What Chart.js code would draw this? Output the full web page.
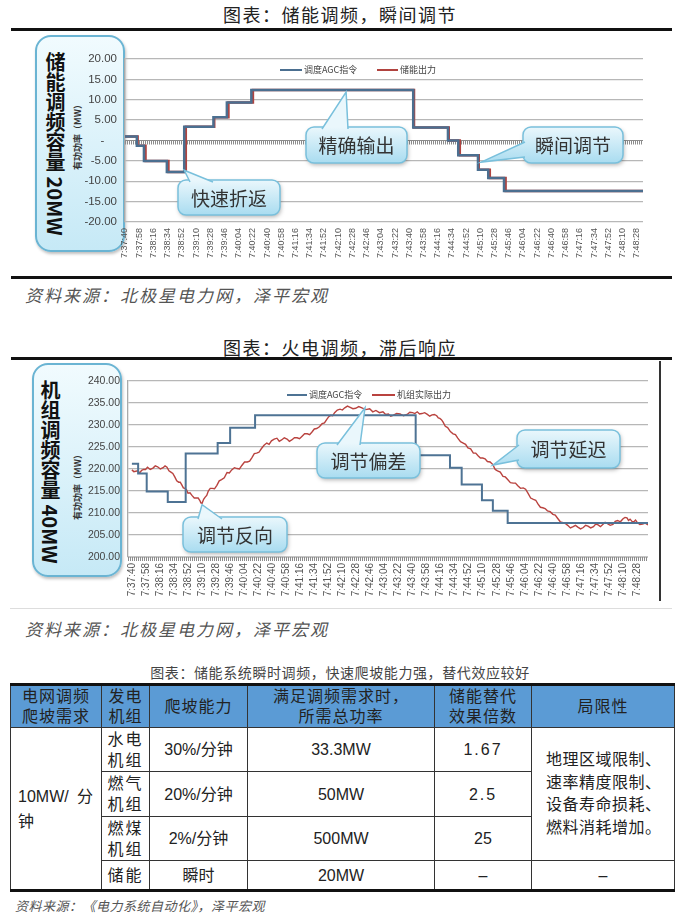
<!DOCTYPE html>
<html>
<head>
<meta charset="utf-8">
<script src="https://cdn.jsdelivr.net/npm/chart.js@4.4.0/dist/chart.umd.min.js"></script>
<style>
body { margin: 0; width: 680px; height: 919px; background: #fff; position: relative; overflow: hidden; font-family: "Noto Sans CJK SC", sans-serif; }
.abs { position: absolute; }
.title { left: 0; width: 680px; text-align: center; font-size: 18px; letter-spacing: 1.5px; color: #222; line-height: 24px; }
.rule { left: 11px; width: 661px; height: 3px; background: #111; }
.source { left: 25px; font-size: 17px; letter-spacing: 2px; font-style: italic; color: #555; line-height: 22px; }
.sidebox { border: 2px solid #6ab4d3; border-radius: 16px; background: linear-gradient(#f1fbfe, #c6e9f6); box-shadow: 1px 2px 3px rgba(0,0,0,0.25); box-sizing: border-box; }
.sidetext { writing-mode: vertical-rl; font-weight: bold; font-size: 20px; line-height: 20px; width: 20px; color: #111; white-space: nowrap; }
.ytitle { transform: translate(-50%, -50%) rotate(-90deg); font-size: 9px; font-weight: bold; color: #333; white-space: nowrap; }
canvas { position: absolute; left: 0; }
#tbl { position: absolute; left: 10px; top: 683px; width: 664px; border-collapse: collapse; table-layout: fixed; border-top: 3px solid #111; border-bottom: 3px solid #111; }
#tbl th, #tbl td { border: 1px solid #333; padding: 0; text-align: center; vertical-align: middle; font-weight: normal; color: #222; font-size: 16px; font-family: "Liberation Sans Narrow", "Liberation Sans", "Noto Sans CJK SC", sans-serif; }
#tbl th { background: #5b9bd5; line-height: 20px; letter-spacing: 1px; }
#tbl td { line-height: 21px; }
#tbl .lim { text-align: left; padding-left: 14px; line-height: 22.5px; letter-spacing: 0.5px; }
#tbl .c1 { text-align: left; padding: 0 8px 0 7px; line-height: 25px; }
#tbl .dem { display: flex; justify-content: space-between; }
#tbl .wide { letter-spacing: 2px; }
</style>
</head>
<body>

<div class="abs title" style="top:2px;">图表：储能调频，瞬间调节</div>
<div class="abs rule" style="top:28px;"></div>
<div class="abs sidebox" style="left:35px; top:35px; width:90px; height:217px;"></div>
<div class="abs sidetext" style="left:45px; top:52px;">储能调频容量 20MW</div>
<div class="abs ytitle" style="left:77px; top:135px;">有功功率（MW）</div>
<canvas id="chart1" width="680" height="246" style="top:30px;"></canvas>
<div class="abs rule" style="top:276px;"></div>
<div class="abs source" style="top:284px;">资料来源：北极星电力网，泽平宏观</div>

<div class="abs title" style="top:335px;">图表：火电调频，滞后响应</div>
<div class="abs rule" style="top:357px;"></div>
<div class="abs" style="left:659px; top:361px; width:2px; height:240px; background:#333;"></div>
<div class="abs" style="left:10px; top:608px; width:662px; height:1px; background:#ddd;"></div>
<div class="abs sidebox" style="left:32px; top:363px; width:90px; height:214px;"></div>
<div class="abs sidetext" style="left:40px; top:380px;">机组调频容量 40MW</div>
<div class="abs ytitle" style="left:77px; top:485px;">有功功率（MW）</div>
<canvas id="chart2" width="680" height="250" style="top:358px;"></canvas>
<div class="abs source" style="top:618px;">资料来源：北极星电力网，泽平宏观</div>

<div class="abs" style="left:0; width:680px; top:662px; text-align:center; font-size:14px; letter-spacing:0.6px; color:#444; line-height:20px;">图表：储能系统瞬时调频，快速爬坡能力强，替代效应较好</div>
<table id="tbl">
  <colgroup><col style="width:91px"><col style="width:48px"><col style="width:98px"><col style="width:187px"><col style="width:97px"><col style="width:143px"></colgroup>
  <tr style="height:43px"><th>电网调频<br>爬坡需求</th><th>发电<br>机组</th><th>爬坡能力</th><th>满足调频需求时，<br>所需总功率</th><th>储能替代<br>效果倍数</th><th>局限性</th></tr>
  <tr style="height:44px"><td rowspan="4" class="c1"><div class="dem"><span>10MW/</span><span>分</span></div>钟</td><td class="wide">水电<br>机组</td><td>30%/分钟</td><td>33.3MW</td><td class="wide">1.67</td><td rowspan="3" class="lim">地理区域限制、<br>速率精度限制、<br>设备寿命损耗、<br>燃料消耗增加。</td></tr>
  <tr style="height:45px"><td class="wide">燃气<br>机组</td><td>20%/分钟</td><td>50MW</td><td class="wide">2.5</td></tr>
  <tr style="height:44px"><td class="wide">燃煤<br>机组</td><td>2%/分钟</td><td>500MW</td><td>25</td></tr>
  <tr style="height:30px"><td class="wide">储能</td><td>瞬时</td><td>20MW</td><td>–</td><td>–</td></tr>
</table>
<div class="abs" style="left:15px; top:897px; font-size:13px; font-style:italic; color:#555; letter-spacing:0.5px; line-height:18px;">资料来源：《电力系统自动化》，泽平宏观</div>

<script>
// x axis labels, one every 18 seconds from 7:37:40
const timeLabels = ['7:37:40','7:37:58','7:38:16','7:38:34','7:38:52','7:39:10','7:39:28','7:39:46','7:40:04','7:40:22','7:40:40','7:40:58','7:41:16','7:41:34','7:41:52','7:42:10','7:42:28','7:42:46','7:43:04','7:43:22','7:43:40','7:43:58','7:44:16','7:44:34','7:44:52','7:45:10','7:45:28','7:45:46','7:46:04','7:46:22','7:46:40','7:46:58','7:47:16','7:47:34','7:47:52','7:48:10','7:48:28'];
const tickStep = 18;

// chart 1: storage, seconds since 7:37:40 where the value changes
const agcTimes1 = [0, 15, 24, 53, 75, 112, 129, 160, 365, 409, 422, 447, 460, 480, 656];
const agcValues1 = [1, -1.3, -5, -7.7, 3.4, 5.7, 9.3, 12.4, 3.2, 0, -3.6, -7.2, -9.2, -12.4, -12.4];
const outTimes1 = [0, 16, 26, 55, 77, 113, 131, 162, 366, 410, 424, 448, 462, 482, 656];
const outValues1 = [1, -1.3, -5, -7.7, 3.4, 5.7, 9.3, 12.4, 3.2, 0, -3.6, -7.2, -9.2, -12.4, -12.4];

// chart 2: thermal unit
const agcTimes2 = [0, 8, 19, 46, 69, 110, 126, 158, 364, 408, 423, 449, 463, 482, 662];
const agcValues2 = [221.2, 219.0, 214.9, 212.5, 223.5, 225.9, 229.4, 232.2, 223.1, 220.3, 216.5, 212.9, 210.5, 207.7, 207.7];
const outTimes2 = [0, 2.5, 5, 7.5, 10, 12.5, 15, 17.5, 20, 23.5, 27, 30, 33, 36.5, 40, 42.5, 45, 47.5, 50, 52.5, 55, 57.5, 60, 62, 64, 66, 68, 70, 72, 74.5, 77, 80, 83, 85, 87, 88.5, 90, 92, 94, 96, 98, 100.5, 103, 106, 109, 112, 115, 118.5, 122, 125, 128, 131.5, 135, 138, 141, 144.5, 148, 151, 154, 157, 160, 163, 166, 169.5, 173, 176, 179, 182.5, 186, 189, 192, 195.5, 199, 202, 205, 208.5, 212, 215, 218, 221.5, 225, 228, 231, 234, 237, 240.5, 244, 247, 250, 252.5, 255, 257.5, 260, 263.5, 267, 270, 273, 276.5, 280, 283.5, 287, 291, 295, 300, 305, 309, 313, 317.5, 322, 325.5, 329, 332, 335, 339.5, 344, 348.5, 353, 356.5, 360, 363, 366, 369, 372, 375.5, 379, 382, 385, 388, 391, 393, 395, 397, 399, 402, 405, 408.5, 412, 415, 418, 421.5, 425, 428, 431, 434.5, 438, 441, 444, 447, 450, 453, 456, 459.5, 463, 466, 469, 472.5, 476, 479, 482, 485.5, 489, 492, 495, 498.5, 502, 505, 508, 511.5, 515, 518, 521, 524, 527, 530, 533, 536.5, 540, 543, 546, 549.5, 553, 556, 559, 562.5, 566, 569, 572, 575.5, 579, 582, 585, 588.5, 592, 595, 598, 601, 604, 607, 610, 613.5, 617, 620, 623, 626.5, 630, 632.5, 635, 637, 639, 641.5, 644, 646, 648, 651.5, 655, 658.5, 662];
const outValues2 = [219.8, 219.4, 219.5, 219.6, 219.1, 219.7, 219.9, 219.9, 220.4, 219.9, 220.2, 220.7, 220.5, 220.0, 220.3, 220.7, 220.4, 219.6, 219.3, 219.0, 218.2, 217.3, 217.0, 217.0, 216.4, 215.7, 215.6, 215.3, 214.5, 214.6, 214.0, 213.4, 213.4, 213.4, 212.9, 212.3, 212.2, 213.1, 213.6, 214.0, 215.0, 215.6, 215.6, 215.5, 216.3, 217.3, 217.6, 218.0, 219.2, 219.1, 219.8, 220.3, 220.1, 220.0, 220.8, 221.6, 221.6, 221.8, 222.6, 223.5, 223.6, 223.8, 224.6, 225.4, 225.9, 225.6, 226.4, 226.8, 227.0, 226.3, 226.6, 227.1, 226.8, 226.3, 226.6, 227.1, 227.1, 226.9, 227.4, 228.0, 228.0, 227.8, 228.4, 229.1, 229.2, 229.6, 230.3, 230.5, 231.3, 231.9, 232.2, 232.1, 232.8, 233.4, 233.6, 233.4, 233.9, 234.3, 234.0, 233.7, 233.8, 234.2, 233.9, 233.5, 233.7, 233.0, 233.3, 232.8, 233.0, 232.4, 232.5, 232.0, 232.2, 232.6, 232.5, 232.1, 232.4, 232.9, 232.8, 232.6, 233.0, 232.5, 232.6, 232.8, 232.4, 232.0, 232.3, 232.4, 232.1, 231.6, 231.5, 231.2, 230.7, 229.7, 229.4, 228.5, 228.0, 227.8, 227.0, 226.2, 225.9, 225.6, 224.8, 224.6, 223.6, 223.6, 223.0, 222.5, 222.5, 222.3, 221.7, 221.6, 221.0, 219.9, 219.6, 219.3, 218.3, 218.2, 217.6, 216.9, 216.8, 216.8, 216.2, 215.6, 215.7, 215.4, 214.5, 213.4, 213.1, 212.9, 212.0, 211.3, 211.2, 211.0, 210.5, 210.3, 209.7, 209.5, 208.8, 208.0, 207.8, 207.6, 207.2, 206.6, 206.9, 207.2, 206.8, 206.4, 206.7, 207.2, 207.0, 206.6, 206.9, 207.5, 207.3, 206.9, 207.4, 207.9, 207.6, 207.2, 207.4, 208.1, 208.3, 208.0, 208.7, 209.0, 208.9, 208.3, 208.6, 208.1, 208.0, 208.4, 207.9, 207.4, 207.5, 207.7, 207.3];

function toPoints(times, values) {
    return times.map((t, i) => ({ x: t, y: values[i] }));
}

// hatched axis line (dense category ticks in the original)
const hatchPlugin = {
    id: 'hatch',
    beforeDatasetsDraw(chart, args, opts) {
        const ctx = chart.ctx;
        const area = chart.chartArea;
        const y = chart.scales.y.getPixelForValue(opts.value);
        ctx.save();
        ctx.strokeStyle = '#8c8c8c';
        ctx.lineWidth = 1;
        ctx.beginPath();
        ctx.moveTo(area.left, y);
        ctx.lineTo(area.right, y);
        ctx.stroke();
        ctx.lineWidth = 4;
        ctx.setLineDash([1, 1]);
        ctx.beginPath();
        ctx.moveTo(area.left, y + 2);
        ctx.lineTo(area.right, y + 2);
        ctx.stroke();
        ctx.restore();
    }
};

// small legend drawn inside the plot
const legendPlugin = {
    id: 'innerLegend',
    afterDatasetsDraw(chart, args, opts) {
        const ctx = chart.ctx;
        ctx.save();
        ctx.font = '9px "Noto Sans CJK SC"';
        ctx.textBaseline = 'middle';
        chart.data.datasets.forEach((ds, i) => {
            const item = opts.items[i];
            ctx.strokeStyle = ds.borderColor;
            ctx.lineWidth = 2;
            ctx.beginPath();
            ctx.moveTo(item[0], opts.y);
            ctx.lineTo(item[1], opts.y);
            ctx.stroke();
            ctx.fillStyle = '#444';
            ctx.fillText(ds.label, item[1] + 2, opts.y);
        });
        ctx.restore();
    }
};

// speech bubble call-outs
const calloutPlugin = {
    id: 'callouts',
    afterDatasetsDraw(chart, args, opts) {
        const ctx = chart.ctx;
        opts.list.forEach(c => {
            const tipX = chart.scales.x.getPixelForValue(c.tip[0]);
            const tipY = chart.scales.y.getPixelForValue(c.tip[1]);
            const [bx, by, bw, bh] = c.box;
            const grad = ctx.createLinearGradient(0, by, 0, by + bh);
            grad.addColorStop(0, '#eaf7fc');
            grad.addColorStop(1, '#a9dcf0');
            ctx.save();
            ctx.shadowColor = 'rgba(0,0,0,0.3)';
            ctx.shadowBlur = 4;
            ctx.shadowOffsetX = 1;
            ctx.shadowOffsetY = 2;
            ctx.fillStyle = grad;
            ctx.beginPath();
            ctx.roundRect(bx, by, bw, bh, 8);
            ctx.fill();
            ctx.restore();
            ctx.save();
            ctx.strokeStyle = '#79c0dc';
            ctx.lineWidth = 1.5;
            ctx.beginPath();
            ctx.roundRect(bx, by, bw, bh, 8);
            ctx.stroke();
            ctx.fillStyle = grad;
            ctx.beginPath();
            ctx.moveTo(c.base[0][0], c.base[0][1]);
            ctx.lineTo(tipX, tipY);
            ctx.lineTo(c.base[1][0], c.base[1][1]);
            ctx.closePath();
            ctx.fill();
            ctx.beginPath();
            ctx.moveTo(c.base[0][0], c.base[0][1]);
            ctx.lineTo(tipX, tipY);
            ctx.lineTo(c.base[1][0], c.base[1][1]);
            ctx.stroke();
            ctx.fillStyle = '#333';
            ctx.font = '19px "Noto Sans CJK SC"';
            ctx.textAlign = 'center';
            ctx.textBaseline = 'middle';
            ctx.fillText(c.text, bx + bw / 2, by + bh / 2 + 1);
            ctx.restore();
        });
    }
};

function createChart(canvasElement, cfg) {
    return new Chart(canvasElement, {
        type: 'line',
        data: { datasets: cfg.datasets },
        plugins: [hatchPlugin, legendPlugin, calloutPlugin],
        options: {
            responsive: false,
            animation: false,
            layout: { padding: cfg.padding },
            elements: { point: { radius: 0 } },
            plugins: {
                legend: { display: false },
                tooltip: { enabled: false },
                hatch: { value: cfg.hatchValue },
                innerLegend: cfg.legend,
                callouts: { list: cfg.callouts }
            },
            scales: {
                x: {
                    type: 'linear',
                    min: cfg.xMin,
                    max: cfg.xMax,
                    afterBuildTicks: axis => { axis.ticks = timeLabels.map((l, i) => ({ value: i * tickStep })); },
                    afterFit: axis => { axis.height = cfg.xHeight; },
                    grid: { display: false, drawTicks: false },
                    border: { display: false },
                    ticks: {
                        autoSkip: false,
                        maxRotation: 90,
                        minRotation: 90,
                        padding: cfg.xPad,
                        color: '#555',
                        font: { family: 'Liberation Sans', size: cfg.xFont },
                        callback: (v, i) => timeLabels[i]
                    }
                },
                y: {
                    min: cfg.yMin,
                    max: cfg.yMax,
                    afterFit: axis => { axis.width = cfg.yWidth; },
                    grid: {
                        drawTicks: false,
                        lineWidth: 1.3,
                        color: c => c.tick.value === cfg.hatchValue ? 'rgba(0,0,0,0)' : '#b7b7b7'
                    },
                    border: { color: '#aaa', width: 1.3 },
                    ticks: {
                        stepSize: 5,
                        padding: 8,
                        color: '#444',
                        font: { family: 'Liberation Sans', size: cfg.yFont },
                        callback: cfg.yFormat
                    }
                }
            }
        }
    });
}

createChart(document.getElementById('chart1'), {
    datasets: [
        { label: '调度AGC指令', data: toPoints(agcTimes1, agcValues1), stepped: true, borderColor: '#4b6f90', borderWidth: 2.5 },
        { label: '储能出力', data: toPoints(outTimes1, outValues1), stepped: true, borderColor: '#b1433f', borderWidth: 2.5 }
    ],
    padding: { top: 29, right: 37, bottom: 0, left: 0 },
    xMin: 0, xMax: 656, xHeight: 54, xPad: 6, xFont: 9,
    yMin: -20, yMax: 20, yWidth: 125, yFont: 11.5,
    yFormat: v => v === 0 ? '-    ' : v.toFixed(2),
    hatchValue: 0,
    legend: { y: 40, items: [[280, 302], [377, 398]] },
    callouts: [
        { text: '快速折返', tip: [75, -7.3], box: [178, 150, 102, 35], base: [[190, 152], [213, 152]] },
        { text: '精确输出', tip: [280, 11.9], box: [306, 97, 101, 36], base: [[322, 99], [348, 99]] },
        { text: '瞬间调节', tip: [451, -5.3], box: [523, 97, 100, 36], base: [[525, 112], [525, 127]] }
    ]
});

createChart(document.getElementById('chart2'), {
    datasets: [
        { label: '调度AGC指令', data: toPoints(agcTimes2, agcValues2), stepped: true, borderColor: '#4e7394', borderWidth: 2 },
        { label: '机组实际出力', data: toPoints(outTimes2, outValues2), borderColor: '#b9433f', borderWidth: 1.4 }
    ],
    padding: { top: 23, right: 32, bottom: 0, left: 0 },
    xMin: -5, xMax: 662, xHeight: 51, xPad: 6, xFont: 10,
    yMin: 200, yMax: 240, yWidth: 128, yFont: 10.5,
    yFormat: v => v.toFixed(2),
    hatchValue: 200,
    legend: { y: 37, items: [[287, 307], [372, 395]] },
    callouts: [
        { text: '调节反向', tip: [90, 211.9], box: [183, 159, 104, 35], base: [[198, 161], [222, 161]] },
        { text: '调节偏差', tip: [299, 233.9], box: [317, 85, 103, 35], base: [[337, 87], [360, 87]] },
        { text: '调节延迟', tip: [463, 220.9], box: [517, 72, 103, 38], base: [[519, 87], [519, 102]] }
    ]
});
</script>
</body>
</html>
